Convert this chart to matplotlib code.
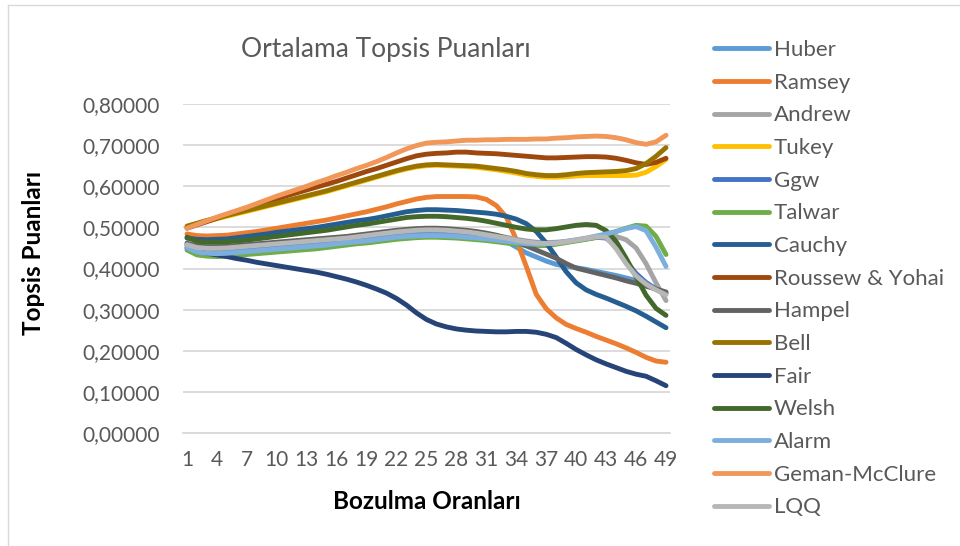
import matplotlib
matplotlib.use("Agg")
import matplotlib.pyplot as plt
from matplotlib.lines import Line2D

plt.rcParams['font.family'] = ['Lato', 'DejaVu Sans']

x = list(range(1, 50))

huber = [0.455, 0.448, 0.446, 0.446, 0.447, 0.449, 0.451, 0.453, 0.455, 0.457,
         0.459, 0.461, 0.463, 0.465, 0.467, 0.469, 0.471, 0.473, 0.475, 0.477,
         0.479, 0.481, 0.483, 0.484, 0.485, 0.485, 0.484, 0.483, 0.481, 0.479,
         0.476, 0.472, 0.466, 0.452, 0.438, 0.428, 0.418, 0.410, 0.405, 0.402,
         0.398, 0.393, 0.388, 0.383, 0.377, 0.371, 0.362, 0.350, 0.340]
ramsey = [0.484, 0.480, 0.479, 0.480, 0.481, 0.484, 0.487, 0.490, 0.494, 0.498,
          0.502, 0.506, 0.510, 0.514, 0.518, 0.523, 0.528, 0.533, 0.538, 0.544,
          0.550, 0.557, 0.563, 0.569, 0.573, 0.575, 0.575, 0.575, 0.575, 0.574,
          0.568, 0.553, 0.525, 0.470, 0.405, 0.337, 0.302, 0.280, 0.264, 0.254,
          0.245, 0.235, 0.226, 0.217, 0.207, 0.196, 0.184, 0.175, 0.172]
andrew = [0.459, 0.452, 0.450, 0.450, 0.451, 0.453, 0.455, 0.457, 0.459, 0.461,
          0.463, 0.465, 0.467, 0.469, 0.471, 0.473, 0.475, 0.478, 0.481, 0.484,
          0.487, 0.490, 0.492, 0.494, 0.495, 0.495, 0.494, 0.492, 0.490, 0.487,
          0.484, 0.480, 0.476, 0.471, 0.467, 0.464, 0.463, 0.464, 0.466, 0.469,
          0.472, 0.475, 0.477, 0.478, 0.470, 0.450, 0.412, 0.365, 0.322]
tukey = [0.501, 0.508, 0.515, 0.521, 0.527, 0.533, 0.539, 0.545, 0.551, 0.557,
         0.563, 0.569, 0.575, 0.581, 0.587, 0.594, 0.601, 0.608, 0.615, 0.622,
         0.629, 0.636, 0.642, 0.647, 0.650, 0.651, 0.650, 0.649, 0.648, 0.646,
         0.643, 0.640, 0.636, 0.632, 0.627, 0.624, 0.622, 0.622, 0.623, 0.625,
         0.626, 0.626, 0.626, 0.626, 0.626, 0.627, 0.634, 0.648, 0.665]
ggw = [0.458, 0.451, 0.449, 0.449, 0.450, 0.452, 0.454, 0.456, 0.458, 0.460,
       0.462, 0.464, 0.466, 0.468, 0.470, 0.472, 0.474, 0.477, 0.480, 0.483,
       0.486, 0.489, 0.491, 0.493, 0.494, 0.494, 0.493, 0.491, 0.489, 0.486,
       0.482, 0.478, 0.474, 0.469, 0.465, 0.462, 0.461, 0.462, 0.465, 0.468,
       0.472, 0.476, 0.474, 0.455, 0.418, 0.388, 0.366, 0.350, 0.340]
talwar = [0.445, 0.433, 0.430, 0.429, 0.430, 0.432, 0.434, 0.436, 0.438, 0.440,
          0.442, 0.444, 0.446, 0.448, 0.451, 0.454, 0.457, 0.460, 0.462, 0.465,
          0.468, 0.471, 0.473, 0.475, 0.476, 0.476, 0.475, 0.474, 0.472, 0.470,
          0.468, 0.465, 0.462, 0.459, 0.456, 0.455, 0.456, 0.459, 0.463, 0.467,
          0.471, 0.476, 0.482, 0.490, 0.498, 0.505, 0.503, 0.478, 0.434]
cauchy = [0.474, 0.471, 0.470, 0.471, 0.472, 0.475, 0.478, 0.481, 0.484, 0.488,
          0.491, 0.494, 0.497, 0.500, 0.504, 0.508, 0.512, 0.516, 0.519, 0.523,
          0.528, 0.533, 0.538, 0.541, 0.543, 0.543, 0.542, 0.541, 0.539, 0.537,
          0.535, 0.532, 0.527, 0.520, 0.509, 0.490, 0.462, 0.428, 0.392, 0.365,
          0.348, 0.337, 0.328, 0.318, 0.308, 0.297, 0.284, 0.270, 0.256]
roussew = [0.498, 0.506, 0.514, 0.522, 0.530, 0.537, 0.545, 0.553, 0.561, 0.569,
           0.577, 0.584, 0.591, 0.598, 0.605, 0.612, 0.620, 0.628, 0.636, 0.643,
           0.651, 0.659, 0.667, 0.674, 0.678, 0.680, 0.681, 0.683, 0.683, 0.681,
           0.680, 0.679, 0.677, 0.675, 0.673, 0.671, 0.669, 0.669, 0.670, 0.671,
           0.672, 0.672, 0.671, 0.668, 0.663, 0.657, 0.653, 0.658, 0.668]
hampel = [0.462, 0.455, 0.453, 0.453, 0.454, 0.456, 0.458, 0.460, 0.462, 0.464,
          0.466, 0.468, 0.470, 0.472, 0.474, 0.476, 0.478, 0.481, 0.484, 0.487,
          0.490, 0.493, 0.495, 0.497, 0.498, 0.498, 0.497, 0.495, 0.493, 0.490,
          0.486, 0.481, 0.474, 0.465, 0.455, 0.445, 0.435, 0.425, 0.412, 0.401,
          0.395, 0.389, 0.383, 0.377, 0.370, 0.364, 0.357, 0.350, 0.343]
bell = [0.503, 0.510, 0.517, 0.523, 0.529, 0.535, 0.541, 0.547, 0.553, 0.559,
        0.565, 0.571, 0.577, 0.583, 0.589, 0.596, 0.603, 0.610, 0.617, 0.624,
        0.631, 0.638, 0.644, 0.649, 0.652, 0.653, 0.652, 0.651, 0.650, 0.649,
        0.646, 0.643, 0.640, 0.636, 0.631, 0.628, 0.626, 0.626, 0.628, 0.631,
        0.633, 0.634, 0.635, 0.636, 0.638, 0.643, 0.655, 0.673, 0.694]
fair = [0.450, 0.443, 0.437, 0.433, 0.429, 0.424, 0.420, 0.415, 0.411, 0.407,
        0.403, 0.399, 0.395, 0.391, 0.386, 0.380, 0.374, 0.367, 0.359, 0.350,
        0.340, 0.327, 0.311, 0.292, 0.276, 0.265, 0.258, 0.253, 0.250, 0.248,
        0.247, 0.246, 0.246, 0.247, 0.247, 0.245, 0.240, 0.232, 0.218, 0.203,
        0.190, 0.178, 0.168, 0.159, 0.150, 0.143, 0.138, 0.127, 0.115]
welsh = [0.476, 0.466, 0.464, 0.464, 0.465, 0.467, 0.469, 0.472, 0.475, 0.478,
         0.481, 0.484, 0.487, 0.490, 0.493, 0.497, 0.501, 0.505, 0.508, 0.512,
         0.516, 0.520, 0.524, 0.526, 0.527, 0.527, 0.526, 0.524, 0.522, 0.519,
         0.515, 0.510, 0.505, 0.500, 0.496, 0.494, 0.494, 0.497, 0.501, 0.505,
         0.507, 0.505, 0.492, 0.466, 0.425, 0.380, 0.335, 0.303, 0.286]
alarm = [0.450, 0.440, 0.437, 0.436, 0.437, 0.439, 0.441, 0.443, 0.445, 0.447,
         0.449, 0.451, 0.453, 0.455, 0.457, 0.460, 0.463, 0.465, 0.467, 0.470,
         0.473, 0.476, 0.478, 0.479, 0.480, 0.480, 0.479, 0.478, 0.476, 0.474,
         0.472, 0.469, 0.466, 0.463, 0.460, 0.459, 0.460, 0.462, 0.466, 0.470,
         0.474, 0.479, 0.484, 0.490, 0.497, 0.502, 0.492, 0.452, 0.405]
geman = [0.498, 0.507, 0.516, 0.525, 0.533, 0.541, 0.549, 0.558, 0.567, 0.576,
         0.584, 0.592, 0.600, 0.609, 0.617, 0.626, 0.634, 0.643, 0.651, 0.660,
         0.670, 0.681, 0.691, 0.699, 0.705, 0.707, 0.708, 0.710, 0.712, 0.712,
         0.713, 0.713, 0.714, 0.714, 0.714, 0.715, 0.715, 0.717, 0.718, 0.720,
         0.721, 0.722, 0.721, 0.718, 0.713, 0.706, 0.702, 0.708, 0.724]
lqq = [0.458, 0.451, 0.449, 0.449, 0.450, 0.452, 0.454, 0.456, 0.458, 0.460,
       0.462, 0.464, 0.466, 0.468, 0.470, 0.472, 0.474, 0.477, 0.480, 0.483,
       0.486, 0.489, 0.491, 0.493, 0.494, 0.494, 0.493, 0.491, 0.489, 0.486,
       0.482, 0.478, 0.474, 0.469, 0.465, 0.462, 0.461, 0.462, 0.465, 0.469,
       0.473, 0.477, 0.476, 0.448, 0.412, 0.382, 0.362, 0.348, 0.336]

names = ["Huber", "Ramsey", "Andrew", "Tukey", "Ggw", "Talwar", "Cauchy",
         "Roussew & Yohai", "Hampel", "Bell", "Fair", "Welsh", "Alarm",
         "Geman-McClure", "LQQ"]
series = [huber, ramsey, andrew, tukey, ggw, talwar, cauchy, roussew, hampel,
          bell, fair, welsh, alarm, geman, lqq]
colors = ["#5B9BD5", "#ED7D31", "#A5A5A5", "#FFC000", "#4472C4", "#70AD47",
          "#255E91", "#9E480E", "#636363", "#997300", "#264478", "#43682B",
          "#7CAFDD", "#F1975A", "#B7B7B7"]

fig = plt.figure(figsize=(9.6, 5.46), dpi=100)
ax = fig.add_axes([183 / 960, 1 - 433 / 546, (670 - 183) / 960, (433 - 104) / 546])

for name, vals, c in zip(names, series, colors):
    ax.plot(x, vals, color=c, lw=3.5, label=name, solid_capstyle='round',
            solid_joinstyle='round')

ax.set_xlim(0.6, 49.4)
ax.set_ylim(0, 0.8)
ax.set_yticks([i / 10 for i in range(9)])
ax.set_yticklabels([("%.5f" % (i / 10)).replace(".", ",") for i in range(9)])
ax.set_xticks(list(range(1, 50, 3)))
ax.set_xticklabels([str(v) for v in range(1, 50, 3)])
ax.tick_params(axis='both', length=0, labelsize=15, labelcolor='#595959')
ax.tick_params(axis='y', pad=17)
ax.tick_params(axis='x', pad=12)
ax.yaxis.grid(True, color='#D9D9D9', lw=1.3)
ax.set_axisbelow(True)
for s in ['top', 'right', 'left']:
    ax.spines[s].set_visible(False)
ax.spines['bottom'].set_color('#D9D9D9')
ax.spines['bottom'].set_linewidth(1.3)

ax.set_ylabel("Topsis Puanları", fontsize=17.5, fontweight='bold', color='black')
ax.yaxis.set_label_coords(-0.283, 0.547)
ax.set_xlabel("Bozulma Oranları", fontsize=17.5, fontweight='bold', color='black')
ax.xaxis.set_label_coords(0.501, -0.173)
fig.text(386 / 960, 1 - 50 / 546, "Ortalama Topsis Puanları", fontsize=19,
         color='#595959', ha='center', va='center')

leg = fig.legend(loc='upper left', bbox_to_anchor=(714 / 960, 1 - 40 / 546),
                 frameon=False, fontsize=16, handlelength=2.48, handletextpad=0.2,
                 labelspacing=0.57, borderpad=0, borderaxespad=0)
for t in leg.get_texts():
    t.set_color('#595959')
for h in leg.legend_handles:
    h.set_solid_capstyle('round')

# chart frame
fig.add_artist(Line2D([7.5 / 960, 7.5 / 960], [0, 1 - 5 / 546], color='#D9D9D9', lw=1))
fig.add_artist(Line2D([7.5 / 960, 1], [1 - 5 / 546, 1 - 5 / 546], color='#D9D9D9', lw=1))

fig.savefig("out.png", dpi=100)
